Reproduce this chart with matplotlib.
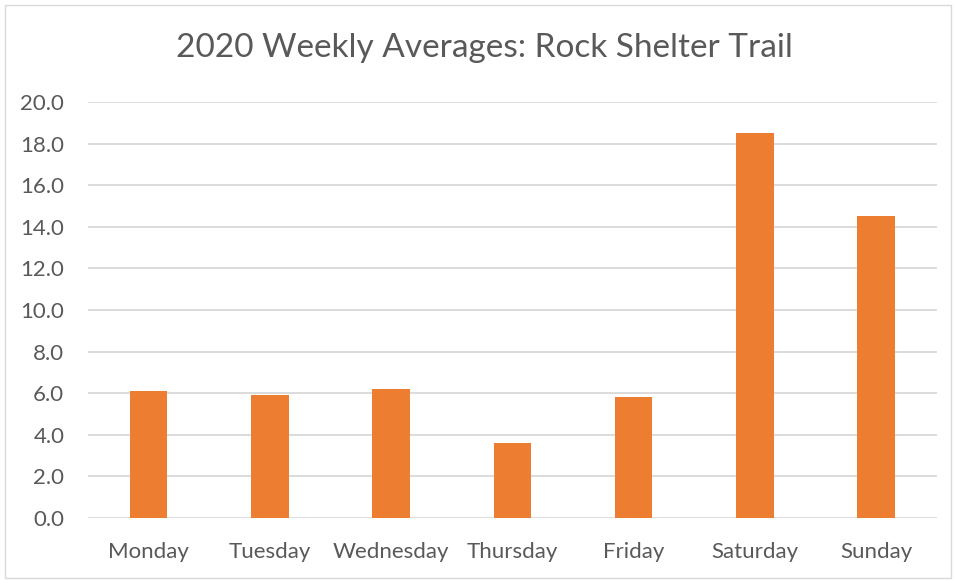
import matplotlib.pyplot as plt
from matplotlib.patches import Rectangle

days = ['Monday', 'Tuesday', 'Wednesday', 'Thursday', 'Friday', 'Saturday', 'Sunday']
averages = [6.1, 5.9, 6.2, 3.6, 5.8, 18.5, 14.5]
yticks = [0, 2, 4, 6, 8, 10, 12, 14, 16, 18, 20]

plt.rcParams['font.family'] = ['Lato', 'DejaVu Sans']

fig = plt.figure(figsize=(9.56, 5.8), dpi=100)
ax = fig.add_axes([0.092, 0.107, 0.888, 0.717])

ax.bar(range(len(days)), averages, width=0.31, color='#ED7D31', zorder=3)

ax.set_xlim(-0.5, len(days) - 0.5)
ax.set_ylim(0, 20)
ax.set_yticks(yticks)
ax.set_yticklabels([f'{v:.1f}' for v in yticks])
ax.set_xticks(range(len(days)))
ax.set_xticklabels(days)
ax.grid(axis='y', color='#d9d9d9', linewidth=1.3, zorder=0)
ax.tick_params(length=0, labelsize=16, colors='#595959')
ax.tick_params(axis='x', pad=17)
ax.tick_params(axis='y', pad=17)
for s in ax.spines.values():
    s.set_visible(False)

fig.text(0.507, 0.917, '2020 Weekly Averages: Rock Shelter Trail', ha='center', va='center',
         fontsize=24, color='#595959')

# chart border
fig.patches.append(Rectangle((0.005, 0.004), 0.99, 0.988, transform=fig.transFigure,
                             fill=False, edgecolor='#d9d9d9', linewidth=1))

fig.savefig('out.png', dpi=100)
